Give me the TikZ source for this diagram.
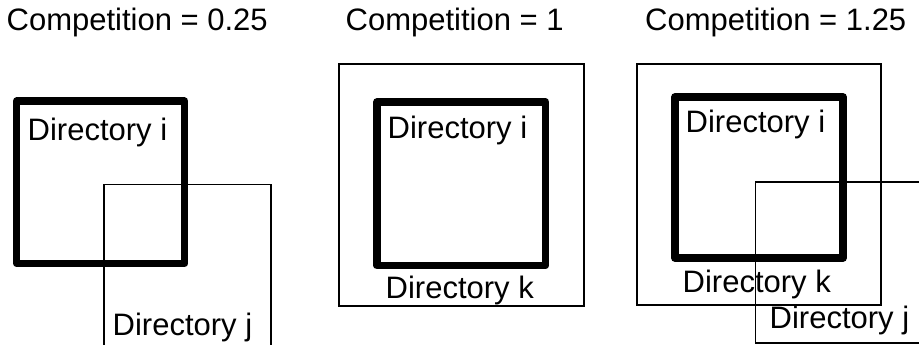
\documentclass[tikz,border=0pt]{standalone}
\usepackage{fontspec}
\setmainfont{Liberation Sans}
\begin{document}
\begin{tikzpicture}[x=1pt,y=-1pt,
  thickbox/.style={line width=7.5pt,line join=round},
  thinbox/.style={line width=1.6pt},
  lbl/.style={anchor=base west,inner sep=0pt,font=\fontsize{31}{36}\selectfont}]
\useasboundingbox (0,0) rectangle (919,345);
% Panel 1
\node[lbl] (t1) at (6.5,30.5) {Competition = 0.25};
\draw[thinbox] (104,350) -- (104,184.3) -- (271,184.3) -- (271,350);
\draw[thickbox] (16.7,101.2) rectangle (184.7,263.3);
\node[lbl] (i1) at (27.5,140) {Directory i};
\node[lbl] (j1) at (112.5,335) {Directory j};
% Panel 2
\node[lbl] (t2) at (345.5,31) {Competition = 1};
\draw[thinbox] (339,64) rectangle (584,306);
\draw[thickbox] (377,102) rectangle (545.5,265.5);
\node[lbl] (i2) at (387.5,139) {Directory i};
\node[lbl] (k2) at (385.5,298) {Directory k};
% Panel 3
\node[lbl] (t3) at (645,31) {Competition = 1.25};
\draw[thinbox] (637,64) rectangle (881,305);
\draw[thickbox] (675,97) rectangle (843,258);
\node[lbl] (i3) at (685.5,132) {Directory i};
\node[lbl] (k3) at (682.5,292) {Directory k};
\draw[thinbox] (930,182) -- (755.5,182) -- (755.5,343) -- (930,343);
\node[lbl] (j3) at (769.5,328) {Directory j};
\end{tikzpicture}
\end{document}
